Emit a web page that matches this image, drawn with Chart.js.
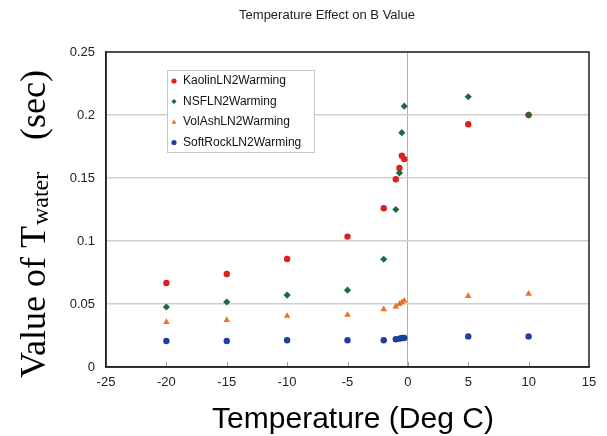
<!DOCTYPE html>
<html><head><meta charset="utf-8">
<script src="https://cdn.jsdelivr.net/npm/chart.js@4"></script>
<style>html,body{margin:0;padding:0;background:#fff}#c{display:block}</style>
</head>
<body>
<canvas id="c" width="607" height="436"></canvas>
<script>
const chartTitle = "Temperature Effect on B Value";
const xAxisTitle = "Temperature (Deg C)";
const yTitleMain = "Value of T";
const yTitleSub = "water";
const yTitleUnit = "(sec)";
const seriesNames = ["KaolinLN2Warming", "NSFLN2Warming", "VolAshLN2Warming", "SoftRockLN2Warming"];
const xTickValues = [-25, -20, -15, -10, -5, 0, 5, 10, 15];
const yTickValues = [0, 0.05, 0.1, 0.15, 0.2, 0.25];

const kaolinX = [-20, -15, -10, -5, -2, -1, -0.7, -0.5, -0.3, 5, 10];
const kaolinY = [0.0667, 0.0738, 0.0857, 0.1035, 0.126, 0.149, 0.158, 0.1677, 0.165, 0.1926, 0.2];
const nsfX = [-20, -15, -10, -5, -2, -1, -0.7, -0.5, -0.3, 5, 10];
const nsfY = [0.0476, 0.0516, 0.0571, 0.061, 0.0855, 0.125, 0.154, 0.186, 0.207, 0.2145, 0.2];
const volAshX = [-20, -15, -10, -5, -2, -1, -0.7, -0.5, -0.3, 5, 10];
const volAshY = [0.0357, 0.0373, 0.0405, 0.0413, 0.0458, 0.0479, 0.0500, 0.0513, 0.0526, 0.0563, 0.058];
const softRockX = [-20, -15, -10, -5, -2, -1, -0.7, -0.5, -0.3, 5, 10];
const softRockY = [0.0206, 0.0206, 0.0212, 0.0212, 0.0212, 0.022, 0.0225, 0.023, 0.023, 0.0243, 0.0243];

const colors = ["#de2020", "#1c6b3a", "#f2701f", "#1d3f9f"];
const styles = ["circle", "rectRot", "triangle", "circle"];
const radii = [3.2, 3.6, 3.8, 3.2];
const orders = [1, 0, 2, 3];

function pts(xs, ys) { return xs.map((x, i) => ({x: x, y: ys[i]})); }
const allData = [pts(kaolinX, kaolinY), pts(nsfX, nsfY), pts(volAshX, volAshY), pts(softRockX, softRockY)];

function drawMarker(ctx, style, x, y, r, color) {
  ctx.save();
  ctx.fillStyle = color;
  ctx.beginPath();
  if (style === "circle") {
    ctx.arc(x, y, r, 0, Math.PI * 2);
  } else if (style === "rectRot") {
    ctx.moveTo(x, y - r); ctx.lineTo(x + r, y); ctx.lineTo(x, y + r); ctx.lineTo(x - r, y); ctx.closePath();
  } else if (style === "triangle") {
    ctx.moveTo(x, y - r); ctx.lineTo(x + r * 0.95, y + r * 0.7); ctx.lineTo(x - r * 0.95, y + r * 0.7); ctx.closePath();
  }
  ctx.fill();
  ctx.restore();
}

const decor = {
  id: "decor",
  beforeDatasetsDraw(chart) {
    const ctx = chart.ctx, a = chart.chartArea, xs = chart.scales.x;
    ctx.save();
    ctx.strokeStyle = "#999";
    ctx.lineWidth = 1;
    xTickValues.forEach(v => {
      if (v === -25 || v === 15) return;
      const px = Math.round(xs.getPixelForValue(v)) + 0.5;
      ctx.beginPath(); ctx.moveTo(px, a.bottom); ctx.lineTo(px, a.bottom - 5); ctx.stroke();
    });
    ctx.restore();
  },
  afterDraw(chart) {
    const ctx = chart.ctx, a = chart.chartArea;
    ctx.save();
    // frame
    ctx.strokeStyle = "#222";
    ctx.lineWidth = 1.5;
    ctx.strokeRect(a.left, a.top, a.right - a.left, a.bottom - a.top);
    // title
    ctx.fillStyle = "#222";
    ctx.font = '13px "Liberation Sans", Arial, sans-serif';
    ctx.textAlign = "center"; ctx.textBaseline = "middle";
    ctx.fillText(chartTitle, 327, 15);
    // x title
    ctx.fillStyle = "#000";
    ctx.font = '30px "Liberation Sans", Arial, sans-serif';
    ctx.textAlign = "center"; ctx.textBaseline = "alphabetic";
    ctx.fillText(xAxisTitle, 353, 428);
    // y title
    ctx.save();
    ctx.translate(45, 378);
    ctx.rotate(-Math.PI / 2);
    ctx.textAlign = "left"; ctx.textBaseline = "alphabetic";
    ctx.font = '36px "Liberation Serif", "Times New Roman", serif';
    ctx.fillText(yTitleMain, 0, 0);
    const w = ctx.measureText(yTitleMain).width;
    ctx.font = '24px "Liberation Serif", "Times New Roman", serif';
    ctx.fillText(yTitleSub, w + 1, 3);
    ctx.font = '36px "Liberation Serif", "Times New Roman", serif';
    ctx.fillText(yTitleUnit, 238, 0);
    ctx.restore();
    // legend
    const lx = 167.5, ly = 70.5, lw = 147, lh = 82;
    ctx.fillStyle = "#fff";
    ctx.fillRect(lx, ly, lw, lh);
    ctx.strokeStyle = "#c8c8c8"; ctx.lineWidth = 1;
    ctx.strokeRect(lx, ly, lw, lh);
    ctx.font = '12px "Liberation Sans", Arial, sans-serif';
    ctx.textAlign = "left"; ctx.textBaseline = "middle";
    seriesNames.forEach((n, i) => {
      const yy = 81 + i * 20.5;
      drawMarker(ctx, styles[i], 174, yy, 2.6, colors[i]);
      ctx.fillStyle = "#111";
      ctx.fillText(n, 183, yy);
    });
    ctx.restore();
  }
};

new Chart(document.getElementById("c"), {
  type: "scatter",
  data: {
    datasets: seriesNames.map((n, i) => ({
      label: n,
      data: allData[i],
      pointStyle: styles[i],
      pointRadius: radii[i],
      pointHoverRadius: radii[i],
      backgroundColor: colors[i],
      borderColor: colors[i],
      borderWidth: 0,
      order: orders[i]
    }))
  },
  options: {
    responsive: false,
    devicePixelRatio: 1,
    animation: false,
    events: [],
    layout: { padding: { top: 52, right: 18, left: 0, bottom: 0 } },
    plugins: { legend: { display: false }, title: { display: false }, tooltip: { enabled: false } },
    scales: {
      x: {
        type: "linear", min: -25, max: 15,
        afterFit(s) { s.height = 69; },
        afterBuildTicks(s) { s.ticks = xTickValues.map(v => ({value: v})); },
        ticks: { padding: 8, color: "#222", font: { family: '"Liberation Sans", Arial, sans-serif', size: 13 } },
        grid: { drawTicks: false, color: c => (c.tick && c.tick.value === 0) ? "#b0b0b0" : "rgba(0,0,0,0)", lineWidth: 1 },
        border: { display: true, color: "#222", width: 1.5 }
      },
      y: {
        type: "linear", min: 0, max: 0.25,
        afterFit(s) { s.width = 106; },
        afterBuildTicks(s) { s.ticks = yTickValues.map(v => ({value: v})); },
        ticks: { padding: 11, color: "#222", callback: v => String(+Number(v).toFixed(2)), font: { family: '"Liberation Sans", Arial, sans-serif', size: 13 } },
        grid: { drawTicks: false, color: "#cfcfcf", lineWidth: 1.5 },
        border: { display: true, color: "#222", width: 1.5 }
      }
    }
  },
  plugins: [decor]
});
</script>
</body></html>
